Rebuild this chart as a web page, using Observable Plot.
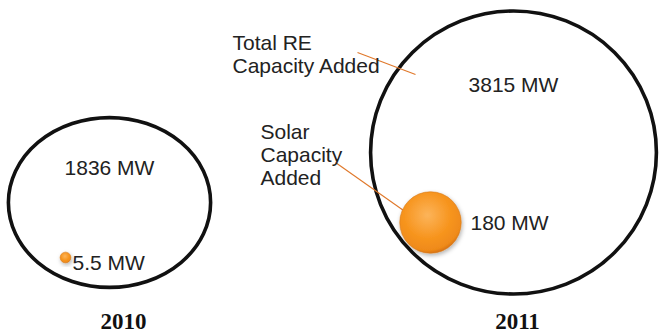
<!DOCTYPE html>
<html><head><meta charset="utf-8">
<script src="https://cdn.jsdelivr.net/npm/d3@7"></script>
<script src="https://cdn.jsdelivr.net/npm/@observablehq/plot@0.6"></script>
<style>
body{margin:0;background:#fff}
#chart svg{display:block}
</style>
</head><body><div id="chart"></div>
<script>
// ---- data ----
const years = ["2010", "2011"];
const totalMW = [1836, 3815];
const solarMW = [5.5, 180];
const totalLabels = ["1836 MW", "3815 MW"];
const solarLabels = ["5.5 MW", "180 MW"];
const calloutTotal = "Total RE\nCapacity Added";
const calloutSolar = "Solar\nCapacity\nAdded";

// ---- layout (pixel positions, kept apart from the data) ----
const W = 660, H = 331;
const bigCx = [109, 513], bigCy = [202, 152], aspect = [[1.03, 0.865], [1.01, 1]];
const solarCx = [65, 430], solarCy = [257, 222];
const totalLabelPos = [[109, 168], [513, 85]];
const solarLabelPos = [[72, 263], [470, 223]];
const yearLabelPos = [[123, 321], [517, 321]];

const big = years.map((y, i) => ({year: y, mw: totalMW[i], label: totalLabels[i],
  x: bigCx[i], y: bigCy[i], lx: totalLabelPos[i][0], ly: totalLabelPos[i][1],
  yx: yearLabelPos[i][0], yy: yearLabelPos[i][1]}));
const solar = years.map((y, i) => ({year: y, mw: solarMW[i], label: solarLabels[i],
  x: solarCx[i], y: solarCy[i], lx: solarLabelPos[i][0], ly: solarLabelPos[i][1]}));
const leaders = [
  {x1: 357, y1: 52, x2: 415, y2: 74},
  {x1: 335, y1: 162, x2: 413, y2: 217}
];
const callouts = [
  {text: calloutTotal, x: 232, y: 32},
  {text: calloutSolar, x: 260, y: 122}
];

const font = "'Liberation Sans', Arial, sans-serif";

const plot = Plot.plot({
  width: W, height: H,
  margin: 0,
  style: {fontFamily: font, background: "#fff", overflow: "visible"},
  x: {type: "identity"},
  y: {type: "identity"},
  r: {type: "sqrt", domain: [0, d3.max(totalMW)], range: [0, 141.5]},
  marks: [
    Plot.dot(big, {x: "x", y: "y", r: "mw", stroke: "#111", strokeWidth: 3.6, fill: "none", className: "bigc"}),
    Plot.link(leaders, {x1: "x1", y1: "y1", x2: "x2", y2: "y2", stroke: "#e0782a", strokeWidth: 1.1}),
    Plot.dot(solar, {x: "x", y: "y", r: "mw", fill: "url(#sunGrad)", stroke: "#d67a1c", strokeWidth: 0.6, className: "solarc"}),
    Plot.text(big, {x: "lx", y: "ly", text: "label", fontSize: 21, fill: "#222", textAnchor: "middle"}),
    Plot.text(solar, {x: "lx", y: "ly", text: "label", fontSize: 21, fill: "#222", textAnchor: "start"}),
    Plot.text(callouts.slice(0,1), {x: "x", y: "y", text: "text", fontSize: 21, fill: "#222", textAnchor: "start", lineAnchor: "top", lineHeight: 1.14}),
    Plot.text(callouts.slice(1), {x: "x", y: "y", text: "text", fontSize: 21, fill: "#222", textAnchor: "start", lineAnchor: "top", lineHeight: 1.1}),
    Plot.text(big, {x: "yx", y: "yy", text: "year", fontSize: 23, fontWeight: "bold", fill: "#111", textAnchor: "middle", fontFamily: "'Liberation Serif', 'DejaVu Serif', serif"})
  ]
});
document.getElementById("chart").appendChild(plot);

// gradient + shadow defs for the solar spheres
const svg = d3.select(plot);
const defs = svg.insert("defs", ":first-child");
const g = defs.append("radialGradient").attr("id", "sunGrad").attr("cx", "45%").attr("cy", "38%").attr("r", "62%");
g.append("stop").attr("offset", "0%").attr("stop-color", "#fcb45a");
g.append("stop").attr("offset", "60%").attr("stop-color", "#f7951f");
g.append("stop").attr("offset", "92%").attr("stop-color", "#ef8a19");
g.append("stop").attr("offset", "100%").attr("stop-color", "#d97412");
const f = defs.append("filter").attr("id", "shadow").attr("x", "-30%").attr("y", "-30%").attr("width", "160%").attr("height", "160%");
f.append("feDropShadow").attr("dx", 1).attr("dy", 2).attr("stdDeviation", 2).attr("flood-color", "#000").attr("flood-opacity", 0.3);
svg.selectAll(".solarc circle").attr("filter", "url(#shadow)");

// squash the big circles to the reference's slightly elliptical shapes
// (Plot sorts dots by radius, so match each circle to its year by position)
svg.selectAll(".bigc circle").each(function() {
  const el = this;
  el.setAttribute("vector-effect", "non-scaling-stroke");
  const bb = el.getBBox();
  const cx = bb.x + bb.width / 2, cy = bb.y + bb.height / 2;
  const i = d3.minIndex(bigCx, v => Math.abs(v - cx));
  const [sx, sy] = aspect[i];
  const wrap = document.createElementNS("http://www.w3.org/2000/svg", "g");
  wrap.setAttribute("transform", `translate(${cx},${cy}) scale(${sx},${sy}) translate(${-cx},${-cy})`);
  el.parentNode.insertBefore(wrap, el);
  wrap.appendChild(el);
});
</script>
</body></html>
